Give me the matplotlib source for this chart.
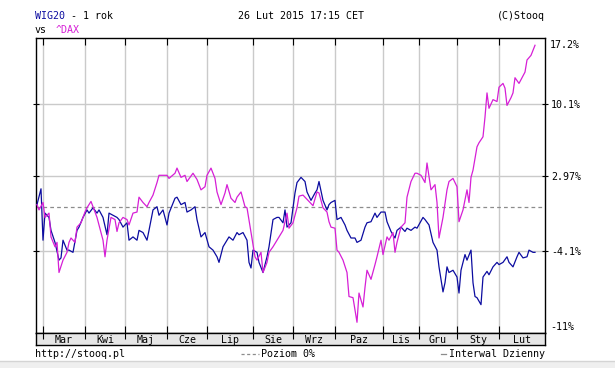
import numpy as np
import matplotlib
matplotlib.use("Agg")
import matplotlib.pyplot as plt
from matplotlib.lines import Line2D
from matplotlib.patches import Rectangle

# sessions (trading day index) and % change vs first session
wig_days = [0, 2, 3, 4, 6, 7, 9, 11, 12, 13, 15, 16, 18, 20, 21, 23, 25, 26, 28, 30,
            31, 33, 35, 36, 38, 40, 41, 43, 45, 46, 48, 50, 51, 53, 55, 56, 58, 60, 61, 63,
            65, 66, 69, 70, 72, 74, 75, 77, 79, 80, 82, 84, 86, 88, 90, 91, 93, 95, 96, 98,
            100, 101, 103, 105, 106, 107, 108, 110, 111, 113, 115, 116, 118, 120, 121, 123, 124, 125, 127, 129,
            130, 132, 134, 135, 137, 139, 140, 141, 143, 145, 146, 147, 149, 150, 152, 154, 155, 157, 159, 160,
            162, 164, 165, 167, 169, 170, 172, 174, 175, 177, 179, 180, 182, 184, 185, 187, 189, 190, 193, 194,
            196, 198, 200, 201, 203, 204, 205, 206, 208, 210, 211, 212, 214, 215, 217, 218, 219, 220, 222, 223,
            225, 226, 228, 230, 231, 233, 235, 236, 238, 240, 241, 243, 245, 246, 248, 249]
wig20 = [0.2, 1.7, -3.1, -0.6, -1.0, -2.2, -3.3, -4.9, -4.7, -3.1, -4.0, -4.0, -4.2, -2.2, -1.9, -1.0, -0.3, -0.6, -0.1, -0.6,
         -0.3, -1.0, -2.6, -0.6, -0.8, -1.0, -1.2, -1.9, -1.5, -3.1, -2.8, -3.1, -2.2, -2.4, -3.1, -2.2, -0.3, 0.0, -0.8, -0.3,
         -1.7, -0.6, 0.8, 0.9, 0.2, 0.4, -0.5, -0.3, 0.0, -1.2, -2.8, -2.4, -3.7, -4.0, -4.6, -5.1, -3.7, -3.1, -2.8, -3.1,
         -2.4, -2.6, -2.4, -3.1, -5.1, -5.6, -4.0, -4.2, -5.1, -6.0, -4.6, -3.7, -1.2, -1.0, -1.0, -1.5, -0.3, -1.9, -1.5, 1.3,
         2.3, 2.8, 2.4, 1.4, 0.6, 1.3, 1.6, 2.4, 0.6, -0.3, 0.2, 0.4, 0.6, -1.2, -1.0, -1.7, -2.2, -2.9, -2.9, -3.3,
         -3.1, -1.9, -1.5, -1.4, -0.6, -1.0, -0.5, -0.5, -1.4, -2.3, -2.9, -2.2, -1.9, -2.3, -2.0, -2.2, -1.9, -2.0, -1.0, -1.2,
         -1.7, -3.3, -4.0, -5.5, -7.7, -6.9, -5.5, -6.0, -5.8, -6.4, -7.8, -5.8, -4.4, -4.9, -4.0, -6.9, -8.1, -8.2, -8.8, -6.4,
         -5.9, -6.2, -5.5, -5.1, -5.3, -5.1, -4.6, -5.1, -5.5, -4.6, -4.2, -4.7, -4.6, -4.0, -4.2, -4.2]

dax_days = [0, 1, 3, 4, 6, 7, 9, 10, 11, 13, 15, 16, 17, 19, 20, 22, 24, 25, 27, 29,
            30, 32, 33, 34, 35, 37, 39, 40, 41, 43, 45, 46, 48, 50, 51, 53, 55, 56, 58, 60,
            61, 63, 65, 66, 69, 70, 72, 74, 75, 78, 80, 82, 84, 85, 87, 89, 90, 92, 94, 95,
            97, 99, 100, 102, 104, 105, 107, 109, 110, 112, 113, 115, 116, 118, 120, 121, 123, 125, 126, 128,
            130, 131, 133, 135, 138, 140, 141, 143, 145, 146, 147, 149, 150, 151, 153, 155, 156, 158, 160, 161,
            163, 164, 165, 167, 169, 170, 172, 173, 175, 176, 178, 179, 180, 182, 184, 185, 187, 189, 190, 192,
            194, 195, 197, 199, 200, 201, 203, 205, 206, 208, 210, 211, 213, 215, 216, 217, 218, 220, 221, 223,
            224, 225, 226, 228, 230, 231, 233, 234, 235, 237, 238, 239, 241, 242, 244, 245, 247, 249]
dax = [0.2, -0.3, 0.4, -1.0, -0.6, -2.8, -3.7, -3.3, -6.0, -4.9, -4.2, -3.3, -2.9, -3.3, -1.9, -1.5, -0.5, -0.1, 0.5, -0.5,
       -1.0, -2.4, -3.1, -4.6, -3.1, -1.0, -1.2, -2.3, -1.5, -1.0, -1.2, -1.7, -0.6, -0.5, 0.9, 0.4, 0.0, 0.4, 1.1, 2.3,
       3.0, 3.0, 3.0, 2.7, 3.2, 3.7, 2.8, 3.0, 2.4, 3.2, 2.6, 1.6, 1.9, 3.0, 3.7, 2.7, 1.4, 0.2, 1.3, 2.1,
       0.8, 0.4, 0.9, 1.4, 0.0, -0.1, -2.4, -4.6, -4.9, -4.2, -6.0, -5.1, -4.2, -3.7, -3.1, -2.8, -2.2, -0.6, -2.0, -1.5,
       -0.1, 1.0, 1.1, 0.7, 0.1, 1.4, 1.3, -0.1, -0.5, -1.4, -1.9, -2.0, -4.0, -4.2, -4.9, -6.0, -8.1, -8.2, -10.3, -7.8,
       -9.0, -7.3, -5.8, -6.6, -5.3, -4.6, -3.1, -4.4, -2.8, -3.1, -2.4, -4.2, -3.3, -1.9, -1.5, 0.9, 2.4, 3.2, 3.2, 3.0,
       2.3, 4.2, 1.6, 2.1, 0.4, -2.9, -1.0, 1.6, 2.4, 2.7, 1.9, -1.4, -0.3, 1.6, 0.4, 2.8, 3.5, 5.8, 6.2, 6.8,
       8.8, 11.3, 9.7, 10.6, 10.4, 11.9, 12.3, 11.8, 10.0, 10.8, 11.3, 12.9, 12.3, 12.7, 13.5, 14.8, 15.3, 16.4]

month_starts = [3, 24, 44, 65, 85, 108, 128, 149, 173, 191, 210, 231]
month_names = ["Mar", "Kwi", "Maj", "Cze", "Lip", "Sie", "Wrz", "Paz", "Lis", "Gru", "Sty", "Lut"]
last_day = 254
grid_levels = [10.1, 2.97, -4.1]
grid_labels = ["10.1%", "2.97%", "-4.1%"]
y_top, y_bottom = 17.2, -11.2

plt.rcParams['font.family'] = 'DejaVu Sans Mono'
fs = 7.2
wig_col = '#0c0ca0'
dax_col = '#d61fd6'

W, H = 615, 368
fig = plt.figure(figsize=(W / 100, H / 100), dpi=100)

def fx(px):
    return px / W

def fy(py):
    return 1 - py / H

# bottom grey band of the page
fig.add_artist(Rectangle((0, 0), 1, fy(361), transform=fig.transFigure,
                         facecolor='#efefef', edgecolor='none'))
fig.add_artist(Line2D([0, 1], [fy(361), fy(361)], transform=fig.transFigure,
                      color='#d4d4d4', lw=1))

ax = fig.add_axes([fx(36), fy(333), fx(545 - 36), (333 - 38) / H])
strip = fig.add_axes([fx(36), fy(345), fx(545 - 36), 12 / H], sharex=ax)

ax.set_yscale('function', functions=(lambda v: np.log1p(np.asarray(v) / 100.0),
                                     lambda u: np.expm1(u) * 100.0))

ax.plot(wig_days, wig20, color=wig_col, lw=0.9, zorder=3)
ax.plot(dax_days, dax, color=dax_col, lw=0.9, zorder=4)
ax.axhline(0, color='#8c8c8c', lw=0.9, ls=(0, (3, 2.5)), zorder=2)

ax.set_xlim(-0.5, last_day)
ax.set_ylim(y_bottom, y_top)
ax.set_xticks(month_starts)
ax.set_xticklabels([])
ax.set_yticks(grid_levels)
ax.set_yticklabels(grid_labels)
ax.yaxis.tick_right()
ax.grid(True, color='#cacaca', lw=1)
ax.tick_params(axis='x', direction='in', length=5, top=True, bottom=True, color='black', width=0.8)
ax.tick_params(axis='y', direction='inout', length=5, left=True, right=True, labelleft=False,
               labelright=True, labelsize=fs, pad=2, width=0.8)
for s in ax.spines.values():
    s.set_linewidth(1)
fig.text(fx(550), fy(45), "17.2%", fontsize=fs, va='center', ha='left')
fig.text(fx(550), fy(327), "-11%", fontsize=fs, va='center', ha='left')

# month strip
strip.set_facecolor('#e6e6e6')
strip.set_ylim(0, 1)
strip.set_yticks([])
strip.tick_params(axis='x', direction='in', length=4, top=True, bottom=False,
                  labelbottom=False, width=0.8)
bounds = month_starts + [last_day]
for i, name in enumerate(month_names):
    strip.text((bounds[i] + bounds[i + 1]) / 2, 0.45, name, fontsize=fs,
               ha='center', va='center')
for s in strip.spines.values():
    s.set_linewidth(1)

# header
fig.text(fx(35), fy(16), "WIG20", color=wig_col, fontsize=fs, va='center')
fig.text(fx(71), fy(16), "- 1 rok", color='black', fontsize=fs, va='center')
fig.text(fx(35), fy(30), "vs", color='black', fontsize=fs, va='center')
fig.text(fx(56), fy(30), "^DAX", color=dax_col, fontsize=fs, va='center')
fig.text(fx(238), fy(16), "26 Lut 2015 17:15 CET", fontsize=fs, va='center')
fig.text(fx(545), fy(16), "(C)Stooq", fontsize=fs, va='center', ha='right')

# footer
fig.text(fx(35), fy(354), "http://stooq.pl", fontsize=fs, va='center')
fig.add_artist(Line2D([fx(241), fx(259)], [fy(354), fy(354)], transform=fig.transFigure,
                      color='#8c8c8c', lw=0.9, ls=(0, (2.5, 2))))
fig.text(fx(261), fy(354), "Poziom 0%", fontsize=fs, va='center')
fig.add_artist(Line2D([fx(441), fx(446)], [fy(354), fy(354)], transform=fig.transFigure,
                      color='#8c8c8c', lw=0.9))
fig.text(fx(545), fy(354), "Interwal Dzienny", fontsize=fs, va='center', ha='right')

fig.savefig("out.png", dpi=100)
